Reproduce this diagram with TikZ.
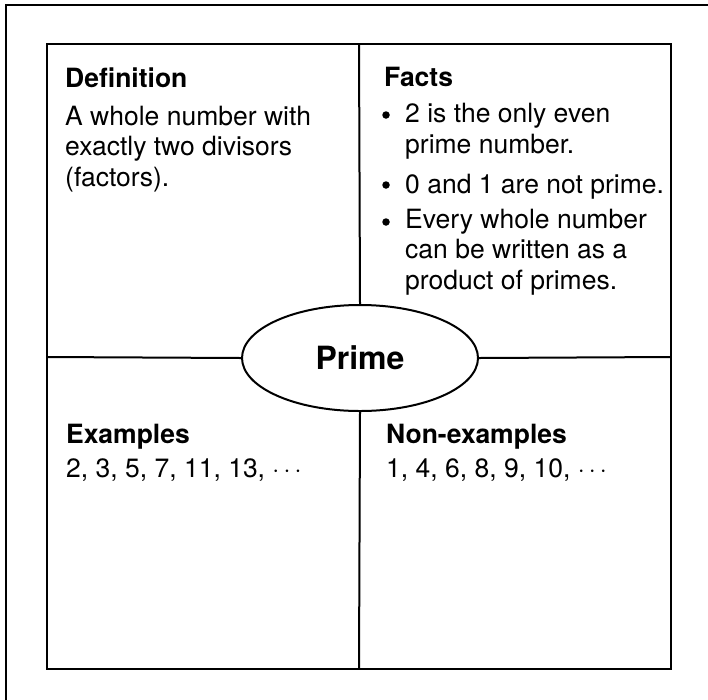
\documentclass[tikz,border=0pt]{standalone}
\usepackage{fontspec}
\setmainfont{TeX Gyre Heros}
\usetikzlibrary{shapes.geometric}
\begin{document}
\begin{tikzpicture}[x=1pt, y=-1pt, font=\fontsize{26.5}{30.5}\selectfont,
  heading/.style={anchor=base west, inner sep=0pt, font=\fontsize{26.5}{30.5}\selectfont\bfseries},
  body/.style={anchor=base west, inner sep=0pt, align=left},
  dotmark/.style={circle, fill, inner sep=0pt, minimum size=7.5pt},
  rule/.style={line width=2pt}]
\useasboundingbox (0,0) rectangle (708,699);
% outer frame, runs off the page
\draw[line width=2.5pt] (6,712) -- (6,5) -- (712,5);
% the four-square frame
\coordinate (tl) at (47,44);
\coordinate (br) at (671,669);
\coordinate (top) at (359,44);
\coordinate (bot) at (359,669);
\coordinate (lft) at (47,357);
\coordinate (rgt) at (671,357);
\draw[line width=2.5pt] (tl) rectangle (br);
\node[draw, ellipse, line width=2pt, minimum width=236pt, minimum height=106pt, inner sep=0pt,
  font=\fontsize{32}{36}\selectfont\bfseries] (prime) at (360,358) {Prime};
\draw[rule] (top) -- (prime.north);
\draw[rule] (prime.south) -- (bot);
\draw[rule] (lft) -- (prime.west);
\draw[rule] (prime.east) -- (rgt);
% top left (body nodes sit on their last line)
\node[heading] (defhead) at (65,87) {Definition};
\node[body] (deftext) at (65,186) {A whole number with\\exactly two divisors\\(factors).};
% top right: first line / last line / text
\node[heading] (facthead) at (384,86) {Facts};
\foreach \a/\b/\t [count=\i] in {123/153/{2 is the only even\\prime number.}, 193/193/{0 and 1 are not prime.}, 230/289/{Every whole number\\can be written as a\\product of primes.}} {
  \node[dotmark] (dot\i) at (386,\a-8) {};
  \node[body] (fact\i) at (405,\b) {\t};
}
% bottom
\node[heading] (exhead) at (66,443) {Examples};
\node[body] (extext) at (66,477) {2, 3, 5, 7, 11, 13, $\cdots$};
\node[heading] (nonhead) at (386,443) {Non-examples};
\node[body] (nontext) at (386,477) {1, 4, 6, 8, 9, 10, $\cdots$};
\end{tikzpicture}
\end{document}
